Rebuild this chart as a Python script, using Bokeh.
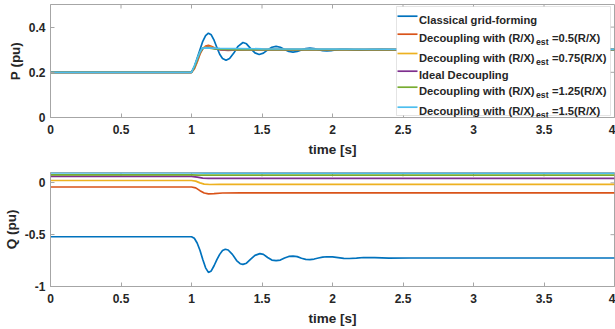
from bokeh.plotting import figure
from bokeh.layouts import column
from bokeh.models import Range1d, FixedTicker, BoxAnnotation, Label
from bokeh.embed import file_html
from bokeh.resources import INLINE

# ---------------- data: active power P (pu) ----------------
t_P_classical = [0, 1.0, 1.02, 1.04, 1.06, 1.08, 1.10, 1.12, 1.14, 1.16, 1.18, 1.20, 1.22, 1.245,
                 1.27, 1.30, 1.33, 1.365, 1.39, 1.42, 1.45, 1.48, 1.51, 1.54, 1.57, 1.60, 1.63,
                 1.66, 1.69, 1.72, 1.75, 1.78, 1.81, 1.84, 1.87, 1.90, 1.93, 1.96, 1.99, 2.02,
                 2.06, 2.10, 2.15, 2.20, 2.27, 2.35, 2.45, 4.0]
P_classical = [0.2, 0.2, 0.225, 0.262, 0.30, 0.337, 0.362, 0.373, 0.366, 0.342, 0.31, 0.28, 0.261, 0.253,
               0.261, 0.285, 0.315, 0.332, 0.326, 0.305, 0.286, 0.279, 0.285, 0.299, 0.311, 0.315, 0.311,
               0.301, 0.292, 0.289, 0.292, 0.299, 0.305, 0.307, 0.305, 0.300, 0.296, 0.295, 0.296, 0.299,
               0.302, 0.302, 0.299, 0.298, 0.300, 0.301, 0.300, 0.300]

t_P_dec = [0, 1.0, 1.02, 1.04, 1.06, 1.08, 1.10, 1.12, 1.14, 1.17, 1.21, 1.26, 1.32, 1.40, 4.0]
P_dec_050 = [0.2, 0.2, 0.215, 0.245, 0.28, 0.305, 0.316, 0.319, 0.315, 0.306, 0.299, 0.297, 0.299, 0.300, 0.300]
P_dec_075 = [0.2, 0.2, 0.217, 0.248, 0.283, 0.305, 0.313, 0.314, 0.311, 0.305, 0.300, 0.298, 0.299, 0.300, 0.300]
P_dec_ideal = [0.2, 0.2, 0.220, 0.252, 0.286, 0.305, 0.310, 0.310, 0.308, 0.304, 0.300, 0.299, 0.300, 0.300, 0.300]
P_dec_125 = [0.2, 0.2, 0.223, 0.256, 0.289, 0.306, 0.308, 0.308, 0.306, 0.304, 0.302, 0.301, 0.300, 0.300, 0.300]
t_P_dec_150 = [0, 1.0, 1.02, 1.04, 1.06, 1.075, 1.10, 1.20, 1.50, 2.50, 4.0]
P_dec_150 = [0.2, 0.2, 0.228, 0.26, 0.29, 0.306, 0.308, 0.306, 0.304, 0.302, 0.301]

# ---------------- data: reactive power Q (pu) ----------------
t_Q_classical = [0, 1.0, 1.02, 1.04, 1.06, 1.08, 1.10, 1.12, 1.14, 1.16, 1.18, 1.20, 1.22, 1.24,
                 1.26, 1.29, 1.32, 1.345, 1.365, 1.39, 1.42, 1.45, 1.485, 1.51, 1.54, 1.57, 1.60,
                 1.63, 1.66, 1.69, 1.72, 1.75, 1.78, 1.81, 1.84, 1.87, 1.90, 1.93, 1.96, 2.00,
                 2.04, 2.08, 2.12, 2.17, 2.22, 2.30, 2.40, 2.55, 4.0]
Q_classical = [-0.52, -0.52, -0.535, -0.58, -0.65, -0.74, -0.82, -0.864, -0.85, -0.80, -0.74, -0.69, -0.652, -0.64,
               -0.648, -0.69, -0.75, -0.78, -0.787, -0.775, -0.735, -0.70, -0.683, -0.69, -0.72, -0.745, -0.751,
               -0.745, -0.725, -0.71, -0.707, -0.712, -0.727, -0.738, -0.74, -0.735, -0.725, -0.716, -0.713, -0.715,
               -0.722, -0.729, -0.73, -0.726, -0.72, -0.721, -0.726, -0.725, -0.725]

t_Q_dec_050 = [0, 1.0, 1.03, 1.06, 1.09, 1.12, 1.16, 1.22, 1.35, 4.0]
Q_dec_050 = [-0.04, -0.04, -0.048, -0.075, -0.098, -0.106, -0.103, -0.098, -0.096, -0.096]
t_Q_dec_075 = [0, 1.0, 1.03, 1.06, 1.09, 1.13, 1.20, 4.0]
Q_dec_075 = [0.023, 0.023, 0.017, 0.0, -0.012, -0.016, -0.014, -0.014]
t_Q_dec_ideal = [0, 1.0, 1.04, 1.08, 1.12, 1.20, 4.0]
Q_dec_ideal = [0.062, 0.062, 0.055, 0.046, 0.043, 0.044, 0.044]
t_Q_dec_125 = [0, 1.0, 1.05, 1.10, 4.0]
Q_dec_125 = [0.078, 0.078, 0.075, 0.074, 0.075]
t_Q_dec_150 = [0, 1.0, 1.10, 4.0]
Q_dec_150 = [0.095, 0.095, 0.094, 0.094]

# ---------------- axes ----------------
x_ticks = [0, 0.5, 1, 1.5, 2, 2.5, 3, 3.5, 4]
x_tick_labels = ["0", "0.5", "1", "1.5", "2", "2.5", "3", "3.5", "4"]
P_ticks = [0, 0.2, 0.4]
P_tick_labels = ["0", "0.2", "0.4"]
Q_ticks = [-1, -0.5, 0]
Q_tick_labels = ["-1", "-0.5", "0"]

legend_main = ["Classical grid-forming", "Decoupling with (R/X)", "Decoupling with (R/X)",
               "Ideal Decoupling", "Decoupling with (R/X)", "Decoupling with (R/X)"]
legend_sub = ["", "est", "est", "", "est", "est"]
legend_tail = ["", "=0.5(R/X)", "=0.75(R/X)", "", "=1.25(R/X)", "=1.5(R/X)"]

colors = ["#0072BD", "#D95319", "#EDB120", "#7E2F8E", "#77AC30", "#4DBEEE"]

FONT = "Liberation Sans"
TEXT = "#262626"
FRAME = "#a6a6a6"
W = 615
LEFT = 50
RIGHT = 1
LW = 1.7
TICK = 4


def style_axis(ax, labels):
    ax.axis_line_color = FRAME
    ax.major_tick_line_color = FRAME
    ax.major_tick_in = TICK
    ax.major_tick_out = 0
    ax.minor_tick_in = 0
    ax.minor_tick_out = 0
    ax.minor_tick_line_color = None
    ax.major_label_text_font = FONT
    ax.major_label_text_font_style = "bold"
    ax.major_label_text_font_size = "12px"
    ax.major_label_text_color = TEXT
    ax.axis_label_text_font = FONT
    ax.axis_label_text_font_style = "bold"
    ax.axis_label_text_font_size = "13.5px"
    ax.axis_label_text_color = TEXT
    ax.major_label_overrides = labels


def make_fig(height, top, bottom, y_start, y_end, yticks, ylabels, ylabel):
    p = figure(width=W, height=height, output_backend="svg", toolbar_location=None,
               x_range=Range1d(0, 4), y_range=Range1d(y_start, y_end),
               min_border_left=LEFT, min_border_right=RIGHT,
               min_border_top=top, min_border_bottom=bottom,
               x_axis_label="time [s]", y_axis_label=ylabel)
    p.grid.visible = False
    p.outline_line_color = FRAME
    p.background_fill_color = "white"
    p.border_fill_color = "white"

    p.xaxis.ticker = FixedTicker(ticks=x_ticks)
    p.yaxis.ticker = FixedTicker(ticks=yticks)
    style_axis(p.xaxis[0], dict(zip(x_ticks, x_tick_labels)))
    style_axis(p.yaxis[0], dict(zip(yticks, ylabels)))
    p.xaxis[0].major_label_standoff = 7
    p.xaxis[0].axis_label_standoff = 5
    p.yaxis[0].major_label_standoff = 5
    p.yaxis[0].axis_label_standoff = 3

    # inward ticks along the top and right edges of the box
    fw = W - LEFT - RIGHT
    fh = height - top - bottom
    dx = TICK / fw * 4.0
    dy = TICK / fh * (y_end - y_start)
    inner_x = [t for t in x_ticks if 0 < t < 4]
    p.segment(x0=inner_x, y0=[y_end] * len(inner_x), x1=inner_x, y1=[y_end - dy] * len(inner_x),
              color=FRAME, line_width=1)
    inner_y = [v for v in yticks if y_start < v < y_end]
    p.segment(x0=[4.0] * len(inner_y), y0=inner_y, x1=[4.0 - dx] * len(inner_y), y1=inner_y,
              color=FRAME, line_width=1)
    return p


# ---------------- P plot ----------------
TOP1, BOT1, H1 = 4, 48, 165
p1 = make_fig(H1, TOP1, BOT1, 0, 0.5, P_ticks, P_tick_labels, "P (pu)")
p1.line(t_P_classical, P_classical, color=colors[0], line_width=LW)
p1.line(t_P_dec, P_dec_050, color=colors[1], line_width=LW)
p1.line(t_P_dec, P_dec_075, color=colors[2], line_width=LW)
p1.line(t_P_dec, P_dec_ideal, color=colors[3], line_width=LW)
p1.line(t_P_dec, P_dec_125, color=colors[4], line_width=LW)
p1.line(t_P_dec_150, P_dec_150, color=colors[5], line_width=LW)

# legend drawn by hand so the "est" subscript can be rendered
FW = W - LEFT - RIGHT
FH = H1 - TOP1 - BOT1


def px_x(px):
    return (px - LEFT) / FW * 4.0


def px_y(py):
    return 0.5 - (py - TOP1) / FH * 0.5


p1.add_layout(BoxAnnotation(left=px_x(396), right=px_x(610), top=px_y(6), bottom=px_y(115),
                            fill_color="white", fill_alpha=1.0, line_color=FRAME, line_width=1))
row_y = [15.7, 33.7, 53.0, 70.7, 86.7, 106.7]
for i, yy in enumerate(row_y):
    p1.segment(x0=[px_x(397)], y0=[px_y(yy)], x1=[px_x(417)], y1=[px_y(yy)],
               color=colors[i], line_width=LW, level="overlay")
    p1.add_layout(Label(x=px_x(418.5), y=px_y(yy + 4), text=legend_main[i], text_font=FONT,
                        text_font_style="bold", text_font_size="11.2px", text_color=TEXT,
                        text_baseline="alphabetic", text_align="left"))
    if legend_sub[i]:
        p1.add_layout(Label(x=px_x(535.5), y=px_y(yy + 8), text=legend_sub[i], text_font=FONT,
                            text_font_style="bold", text_font_size="8.7px", text_color=TEXT,
                            text_baseline="alphabetic", text_align="left"))
        p1.add_layout(Label(x=px_x(551.5), y=px_y(yy + 4), text=legend_tail[i], text_font=FONT,
                            text_font_style="bold", text_font_size="11.2px", text_color=TEXT,
                            text_baseline="alphabetic", text_align="left"))

# ---------------- Q plot ----------------
p2 = make_fig(329 - H1, 7, 43, -1, 0.1, Q_ticks, Q_tick_labels, "Q (pu)")
p2.line(t_Q_classical, Q_classical, color=colors[0], line_width=LW)
p2.line(t_Q_dec_050, Q_dec_050, color=colors[1], line_width=LW)
p2.line(t_Q_dec_075, Q_dec_075, color=colors[2], line_width=LW)
p2.line(t_Q_dec_ideal, Q_dec_ideal, color=colors[3], line_width=LW)
p2.line(t_Q_dec_125, Q_dec_125, color=colors[4], line_width=LW)
p2.line(t_Q_dec_150, Q_dec_150, color=colors[5], line_width=LW)

layout = column(p1, p2, spacing=0)
open("out.html", "w").write(file_html(layout, INLINE))
